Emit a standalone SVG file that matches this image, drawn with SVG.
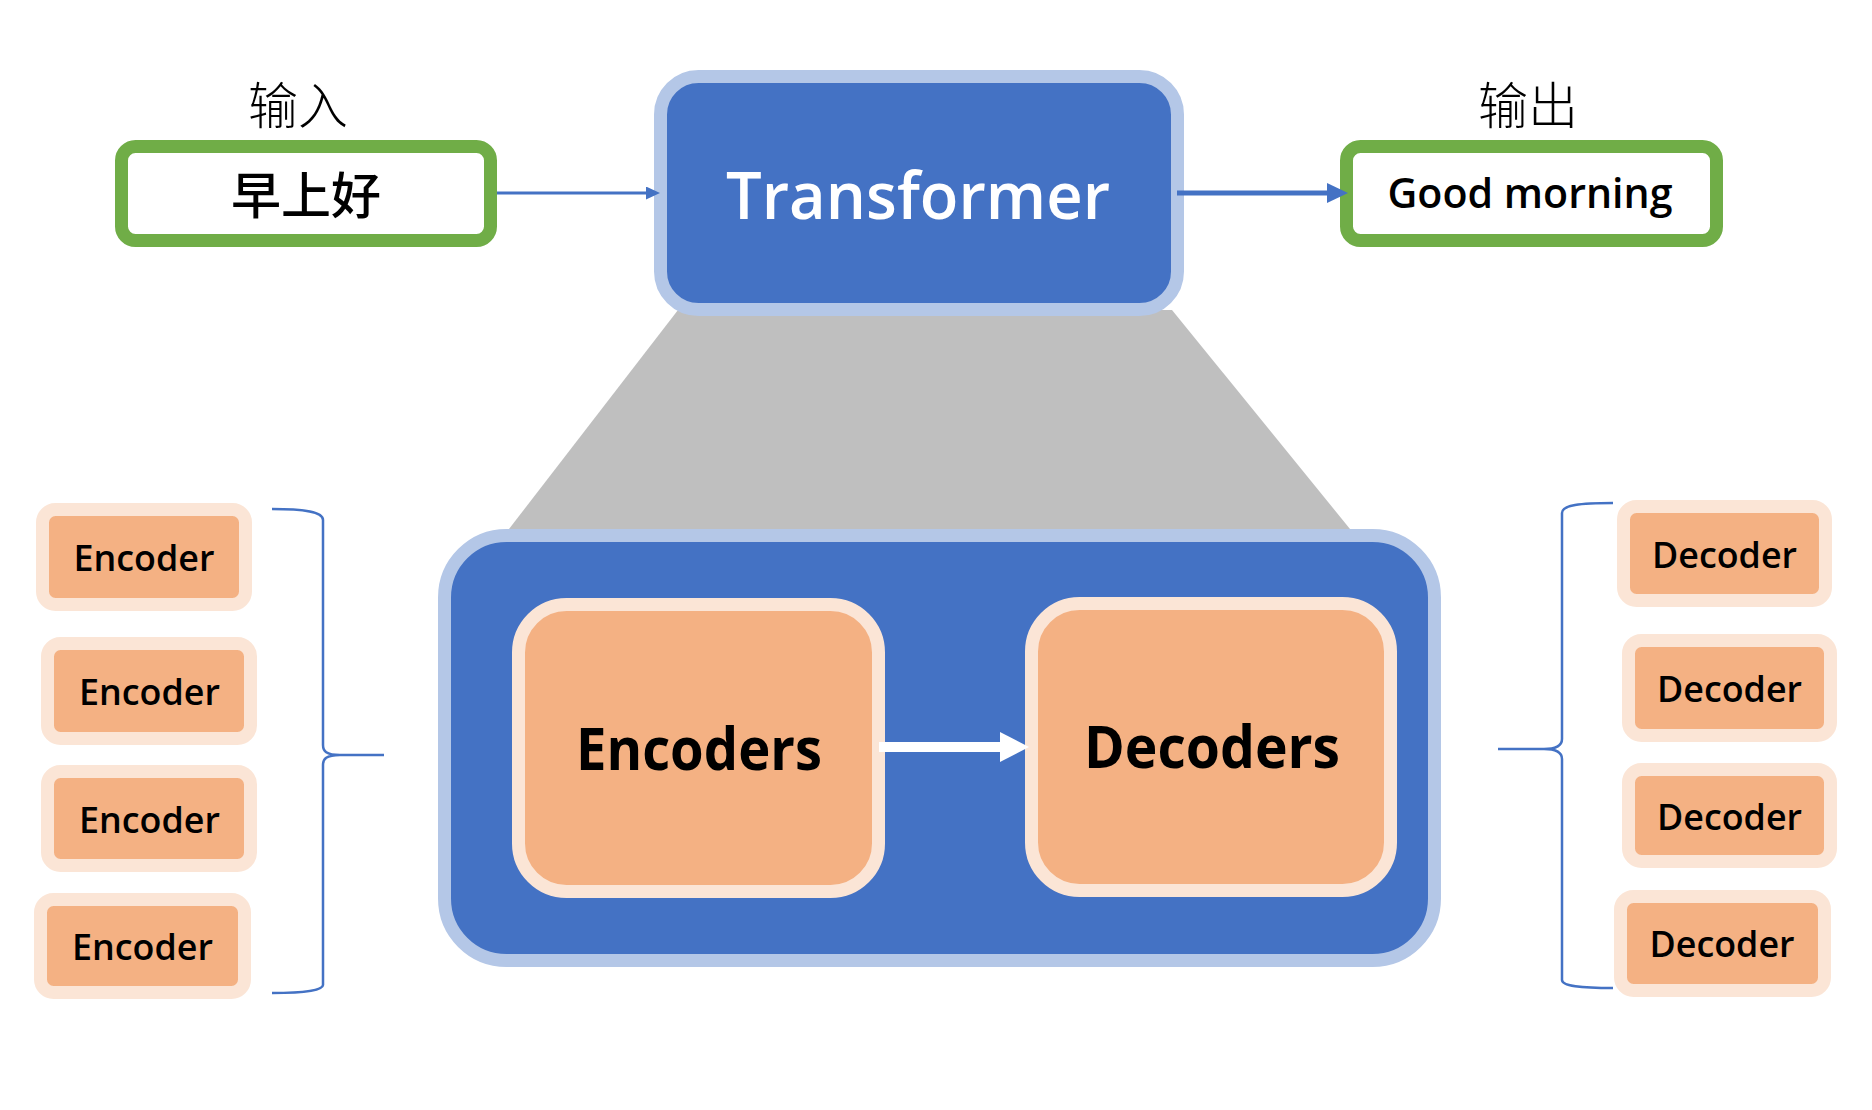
<svg xmlns="http://www.w3.org/2000/svg" width="1872" height="1110" viewBox="0 0 1872 1110">
<style>
.io{fill:#FFFFFF;stroke:#70AD47;stroke-width:13}
.blue{fill:#4472C4;stroke:#B4C7E7;stroke-width:13}
.org{fill:#F4B183;stroke:#FBE5D6;stroke-width:13}
.lat{font-family:"Open Sans","Noto Sans","Liberation Sans",sans-serif;text-anchor:middle;fill:#000}
.cjk{font-family:"Noto Sans CJK SC",sans-serif;text-anchor:middle;fill:#000}
.small{font-size:36px;font-weight:600}
.big{font-size:59px;font-weight:700}
.brace{fill:none;stroke:#4472C4;stroke-width:2.5}
</style>
<defs>
<marker id="headS" markerUnits="userSpaceOnUse" markerWidth="14" markerHeight="13" refX="0" refY="6.5" orient="auto"><path d="M0,0 L14,6.5 L0,13 z" fill="#4472C4"/></marker>
<marker id="headM" markerUnits="userSpaceOnUse" markerWidth="21" markerHeight="20" refX="0" refY="10" orient="auto"><path d="M0,0 L21,10 L0,20 z" fill="#4472C4"/></marker>
<marker id="headW" markerUnits="userSpaceOnUse" markerWidth="29" markerHeight="30" refX="0" refY="15" orient="auto"><path d="M0,0 L29,15 L0,30 z" fill="#FFFFFF"/></marker>
</defs>
<rect width="1872" height="1110" fill="#FFFFFF"/>
<g id="zoom-shade"><polygon points="678,310 1172,310 1350,529 509,529" fill="#BFBFBF"/></g>
<g id="label-input"><text class="cjk" x="298" y="124" font-size="50" font-weight="300">输入</text></g>
<g id="label-output"><text class="cjk" x="1528" y="124" font-size="50" font-weight="300">输出</text></g>
<g id="input"><rect class="io" x="121.5" y="146.5" width="369" height="94" rx="14"/><text class="cjk" x="306" y="214" font-size="50" font-weight="500">早上好</text></g>
<g id="output"><rect class="io" x="1346.5" y="146.5" width="370" height="94" rx="14"/><text class="lat" x="1530" y="208" font-size="41" font-weight="600" textLength="285" lengthAdjust="spacingAndGlyphs">Good morning</text></g>
<g id="transformer"><rect class="blue" x="660.5" y="76.5" width="517" height="233" rx="38"/><text class="lat" x="918" y="219" font-size="66" font-weight="600" style="fill:#FFFFFF" textLength="384" lengthAdjust="spacingAndGlyphs">Transformer</text></g>
<g id="container"><rect class="blue" x="444.5" y="535.5" width="990" height="425" rx="62"/></g>
<g id="encoders"><rect class="org" x="518.5" y="604.5" width="360" height="287" rx="48"/><text class="lat big" x="699" y="770" textLength="246" lengthAdjust="spacingAndGlyphs">Encoders</text></g>
<g id="decoders"><rect class="org" x="1031.5" y="603.5" width="359" height="287" rx="48"/><text class="lat big" x="1212" y="768" textLength="256" lengthAdjust="spacingAndGlyphs">Decoders</text></g>
<g id="encoder-1"><rect class="org" x="42.5" y="509.5" width="203" height="95" rx="13"/><text class="lat small" x="144" y="571" textLength="141" lengthAdjust="spacingAndGlyphs">Encoder</text></g>
<g id="encoder-2"><rect class="org" x="47.5" y="643.5" width="203" height="95" rx="13"/><text class="lat small" x="149.5" y="705" textLength="141" lengthAdjust="spacingAndGlyphs">Encoder</text></g>
<g id="encoder-3"><rect class="org" x="47.5" y="771.5" width="203" height="94" rx="13"/><text class="lat small" x="149.5" y="833" textLength="141" lengthAdjust="spacingAndGlyphs">Encoder</text></g>
<g id="encoder-4"><rect class="org" x="40.5" y="899.5" width="204" height="93" rx="13"/><text class="lat small" x="142.5" y="960" textLength="141" lengthAdjust="spacingAndGlyphs">Encoder</text></g>
<g id="decoder-1"><rect class="org" x="1623.5" y="506.5" width="202" height="94" rx="13"/><text class="lat small" x="1724.5" y="568" textLength="145" lengthAdjust="spacingAndGlyphs">Decoder</text></g>
<g id="decoder-2"><rect class="org" x="1628.5" y="640.5" width="202" height="95" rx="13"/><text class="lat small" x="1729.5" y="702" textLength="145" lengthAdjust="spacingAndGlyphs">Decoder</text></g>
<g id="decoder-3"><rect class="org" x="1628.5" y="769.5" width="202" height="92" rx="13"/><text class="lat small" x="1729.5" y="830" textLength="145" lengthAdjust="spacingAndGlyphs">Decoder</text></g>
<g id="decoder-4"><rect class="org" x="1620.5" y="896.5" width="204" height="94" rx="13"/><text class="lat small" x="1722" y="957" textLength="145" lengthAdjust="spacingAndGlyphs">Decoder</text></g>
<g id="connectors">
<path d="M497,193 H646" fill="none" stroke="#4472C4" stroke-width="3" marker-end="url(#headS)"/>
<path d="M1177,193 H1327" fill="none" stroke="#4472C4" stroke-width="5" marker-end="url(#headM)"/>
<path d="M879,747 H1000" fill="none" stroke="#FFFFFF" stroke-width="10" marker-end="url(#headW)"/>
<path class="brace" d="M272,509 C305,509 323,512 323,520 V745 C323,751 326,755 340,755 H384 M340,755 C326,755 323,759 323,765 V985 C323,990 305,993 272,993"/>
<path class="brace" d="M1613,503 C1580,503 1562,505 1562,513 V739 C1562,745 1558,749 1544,749 H1498 M1544,749 C1558,749 1562,753 1562,759 V980 C1562,986 1580,988 1613,988"/>
</g>
</svg>
